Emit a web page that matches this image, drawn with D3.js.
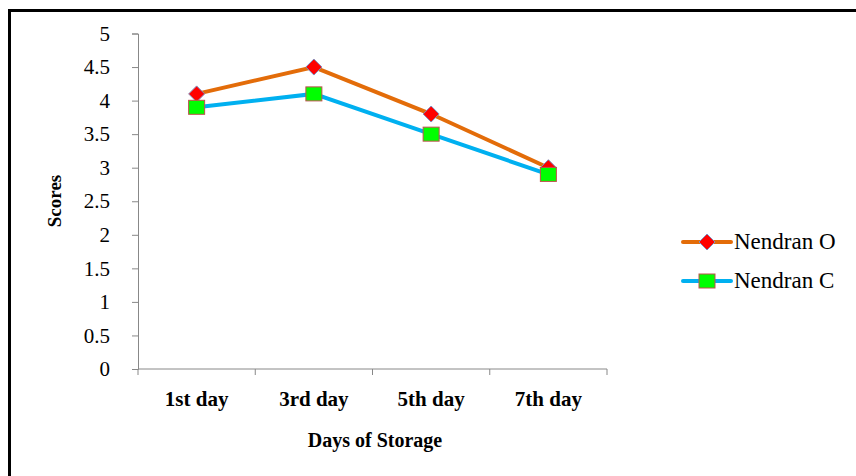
<!DOCTYPE html>
<html>
<head>
<meta charset="utf-8">
<script src="https://cdn.jsdelivr.net/npm/d3@7"></script>
<style>
  body { margin: 0; background: #fff; }
</style>
</head>
<body>
<svg width="856" height="476"></svg>
<script>
const categories = ['1st day', '3rd day', '5th day', '7th day'];
const nendranO = [4.1, 4.5, 3.8, 3.0];
const nendranC = [3.9, 4.1, 3.5, 2.9];
const yTicks = [0, 0.5, 1, 1.5, 2, 2.5, 3, 3.5, 4, 4.5, 5];
const FONT = 'Liberation Serif';

const svg = d3.select('svg').attr('font-family', FONT);

// frame: only top and left edges show
svg.append('line').attr('x1', 8).attr('x2', 856).attr('y1', 10.5).attr('y2', 10.5)
  .attr('stroke', '#000').attr('stroke-width', 3);
svg.append('line').attr('x1', 9.5).attr('x2', 9.5).attr('y1', 9).attr('y2', 476)
  .attr('stroke', '#000').attr('stroke-width', 3);

const x = d3.scaleBand().domain(categories).range([138, 607]);
const y = d3.scaleLinear().domain([0, 5]).range([369, 33.5]);

const gy = svg.append('g').attr('transform', 'translate(138,0)')
  .call(d3.axisLeft(y).tickValues(yTicks).tickFormat(d => d).tickSizeOuter(0).tickSize(6).tickPadding(22));
gy.attr('font-family', FONT);
gy.select('.domain').attr('stroke', '#888');
gy.selectAll('.tick line').attr('stroke', '#888');
gy.selectAll('text').attr('font-size', 21).attr('fill', '#000');

const gx = svg.append('g').attr('transform', 'translate(0,369)')
  .call(d3.axisBottom(x).tickSize(0).tickPadding(22));
gx.attr('font-family', FONT);
gx.select('.domain').attr('stroke', '#888').attr('d', 'M138,0H607');
gx.selectAll('text').attr('font-size', 21).attr('font-weight', 'bold').attr('fill', '#000');
// tick marks at band boundaries
const bounds = categories.map(c => x(c)).concat([x.range()[1]]);
gx.selectAll('.bnd').data(bounds).join('line')
  .attr('x1', d => d).attr('x2', d => d).attr('y1', 0).attr('y2', 6)
  .attr('stroke', '#888');

svg.append('text').attr('x', 375).attr('y', 447).attr('text-anchor', 'middle')
  .attr('font-size', 20).attr('font-weight', 'bold').text('Days of Storage');
svg.append('text').attr('transform', 'translate(61,201) rotate(-90)').attr('text-anchor', 'middle')
  .attr('font-size', 19).attr('font-weight', 'bold').text('Scores');

const cx = c => x(c) + x.bandwidth() / 2;
const line = d3.line().x((d, i) => cx(categories[i])).y(d => y(d));

const series = [
  { name: 'Nendran O', values: nendranO, color: '#E36C09', marker: 'diamond' },
  { name: 'Nendran C', values: nendranC, color: '#00B0F0', marker: 'square' }
];

function drawMarker(g, m, px, py) {
  if (m === 'diamond') {
    g.append('path').attr('d', `M${px},${py - 8}L${px + 8},${py}L${px},${py + 8}L${px - 8},${py}Z`)
      .attr('fill', '#FF0000').attr('stroke', '#7f8fc0').attr('stroke-width', 1);
  } else {
    g.append('rect').attr('x', px - 8).attr('y', py - 7).attr('width', 16).attr('height', 14)
      .attr('fill', '#00FF00').attr('stroke', '#C0504D').attr('stroke-width', 1);
  }
}

series.forEach(s => {
  svg.append('path').datum(s.values).attr('d', line).attr('fill', 'none')
    .attr('stroke', s.color).attr('stroke-width', 4);
});
series.forEach(s => {
  const g = svg.append('g');
  s.values.forEach((v, i) => drawMarker(g, s.marker, cx(categories[i]), y(v)));
});

// legend
series.forEach((s, i) => {
  const ly = 242 + i * 39;
  const g = svg.append('g');
  g.append('line').attr('x1', 683).attr('x2', 731).attr('y1', ly).attr('y2', ly)
    .attr('stroke', s.color).attr('stroke-width', 4).attr('stroke-linecap', 'round');
  drawMarker(g, s.marker, 707, ly);
  g.append('text').attr('x', 734).attr('y', ly + 7).attr('font-size', 23).text(s.name);
});

// make sure every label uses the serif face
svg.selectAll('text').style('font-family', "'Liberation Serif', serif");
</script>
</body>
</html>
